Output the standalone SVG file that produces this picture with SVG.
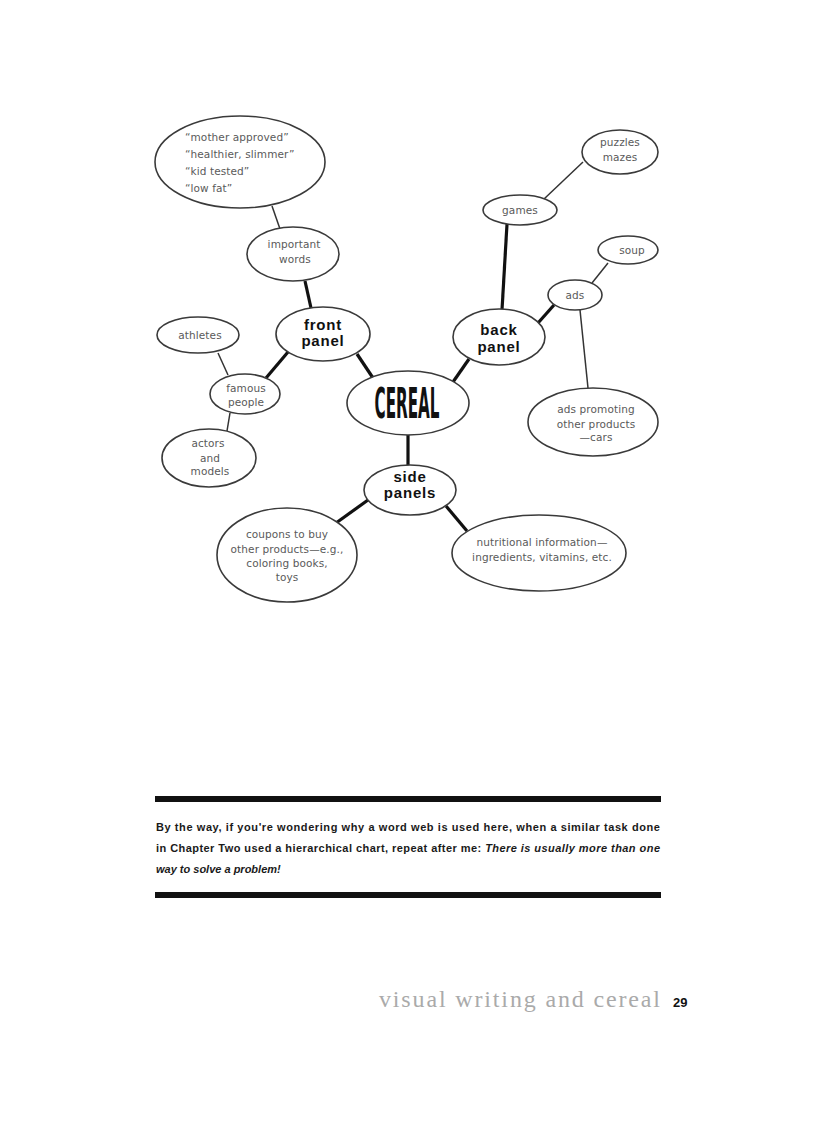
<svg xmlns="http://www.w3.org/2000/svg" width="816" height="1123" viewBox="0 0 816 1123">
<style>
.n{fill:#fff;stroke:#3a3a3a;stroke-width:1.6}
.t{font-family:"DejaVu Sans","Liberation Sans",sans-serif;font-size:10.5px;fill:#5a5a5a;text-anchor:middle;letter-spacing:0.1px}
.tl{text-anchor:start}
.b{font-family:"Liberation Sans",Arial,sans-serif;font-size:15px;font-weight:bold;fill:#111;text-anchor:middle;letter-spacing:0.8px}
.k{stroke:#111;stroke-width:3.2;fill:none}
.s{stroke:#333;stroke-width:1.5;fill:none}
.p{font-family:"Liberation Sans",Arial,sans-serif;font-size:11px;font-weight:bold;fill:#1a1a1a}
</style>
<rect width="816" height="1123" fill="#fff"/>
<g id="connectors">
<line class="s" x1="272" y1="206" x2="280" y2="229"/>
<line class="k" x1="305" y1="281" x2="311" y2="308"/>
<line class="k" x1="357" y1="354" x2="373" y2="378"/>
<line class="k" x1="288" y1="352" x2="266" y2="378"/>
<line class="s" x1="218" y1="353" x2="228" y2="375"/>
<line class="s" x1="230" y1="413" x2="227" y2="431"/>
<line class="k" x1="469" y1="359" x2="453" y2="382"/>
<line class="k" x1="502" y1="310" x2="507" y2="224"/>
<line class="k" x1="538" y1="323" x2="554" y2="305"/>
<line class="s" x1="544" y1="199" x2="583" y2="162"/>
<line class="s" x1="592" y1="283" x2="608" y2="263"/>
<line class="s" x1="580" y1="310" x2="588" y2="388"/>
<line class="k" x1="408" y1="435" x2="408" y2="466"/>
<line class="k" x1="368" y1="500" x2="336" y2="523"/>
<line class="k" x1="446" y1="506" x2="467" y2="531"/>
</g>
<g id="quotes">
<ellipse class="n" cx="240" cy="162" rx="85" ry="46"/>
<text class="t tl" x="185" y="141">“mother approved”</text>
<text class="t tl" x="185" y="158">“healthier, slimmer”</text>
<text class="t tl" x="185" y="175">“kid tested”</text>
<text class="t tl" x="185" y="192">“low fat”</text>
</g>
<g id="puzzles">
<ellipse class="n" cx="620" cy="152" rx="38" ry="22"/>
<text class="t" x="620" y="146">puzzles</text>
<text class="t" x="620" y="161">mazes</text>
</g>
<g id="games">
<ellipse class="n" cx="520" cy="210" rx="37" ry="15"/>
<text class="t" x="520" y="214">games</text>
</g>
<g id="soup">
<ellipse class="n" cx="628" cy="250" rx="30" ry="14"/>
<text class="t" x="632" y="254">soup</text>
</g>
<g id="ads">
<ellipse class="n" cx="575" cy="295" rx="27" ry="15"/>
<text class="t" x="575" y="299">ads</text>
</g>
<g id="important-words">
<ellipse class="n" cx="293" cy="254" rx="46" ry="27"/>
<text class="t" x="294" y="248">important</text>
<text class="t" x="295" y="263">words</text>
</g>
<g id="front-panel">
<ellipse class="n" cx="323" cy="334" rx="47" ry="27"/>
<text class="b" x="323" y="330">front</text>
<text class="b" x="323" y="346">panel</text>
</g>
<g id="back-panel">
<ellipse class="n" cx="499" cy="337" rx="46" ry="28"/>
<text class="b" x="499" y="335">back</text>
<text class="b" x="499" y="352">panel</text>
</g>
<g id="athletes">
<ellipse class="n" cx="198" cy="335" rx="41" ry="18"/>
<text class="t" x="200" y="339">athletes</text>
</g>
<g id="famous-people">
<ellipse class="n" cx="245" cy="394" rx="35" ry="20"/>
<text class="t" x="246" y="392">famous</text>
<text class="t" x="246" y="406">people</text>
</g>
<g id="actors-models">
<ellipse class="n" cx="209" cy="458" rx="47" ry="29"/>
<text class="t" x="208" y="447">actors</text>
<text class="t" x="210" y="462">and</text>
<text class="t" x="210" y="475">models</text>
</g>
<g id="cereal">
<ellipse class="n" cx="408" cy="403" rx="61" ry="32"/>
<text x="407" y="418" font-family="'DejaVu Sans Condensed','DejaVu Sans',sans-serif" font-weight="bold" font-size="42" fill="#111" text-anchor="middle" textLength="65" lengthAdjust="spacingAndGlyphs">CEREAL</text>
</g>
<g id="ads-promoting">
<ellipse class="n" cx="593" cy="422" rx="65" ry="34"/>
<text class="t" x="596" y="413">ads promoting</text>
<text class="t" x="596" y="428">other products</text>
<text class="t" x="596" y="441">—cars</text>
</g>
<g id="side-panels">
<ellipse class="n" cx="410" cy="490" rx="46" ry="25"/>
<text class="b" x="410" y="482">side</text>
<text class="b" x="410" y="498">panels</text>
</g>
<g id="coupons">
<ellipse class="n" cx="287" cy="555" rx="70" ry="47"/>
<text class="t" x="287" y="538">coupons to buy</text>
<text class="t" x="287" y="553">other products—e.g.,</text>
<text class="t" x="287" y="567">coloring books,</text>
<text class="t" x="287" y="581">toys</text>
</g>
<g id="nutritional">
<ellipse class="n" cx="539" cy="553" rx="87" ry="38"/>
<text class="t" x="542" y="546">nutritional information—</text>
<text class="t" x="542" y="561">ingredients, vitamins, etc.</text>
</g>
<rect x="155" y="796" width="506" height="6" fill="#111"/>
<text class="p" x="156" y="831" textLength="504" lengthAdjust="spacing">By the way, if you're wondering why a word web is used here, when a similar task done</text>
<text class="p" x="156" y="852" textLength="504" lengthAdjust="spacing">in Chapter Two used a hierarchical chart, repeat after me: <tspan font-style="italic">There is usually more than one</tspan></text>
<text class="p" x="156" y="873" font-style="italic">way to solve a problem!</text>
<rect x="155" y="892" width="506" height="6" fill="#111"/>
<text x="379" y="1007" font-family="'Liberation Serif','Times New Roman',serif" font-size="24" fill="#aaa" textLength="281" lengthAdjust="spacing">visual writing and cereal</text>
<text x="673" y="1007" font-family="'Liberation Sans',Arial,sans-serif" font-size="13" font-weight="bold" fill="#111">29</text>
</svg>
